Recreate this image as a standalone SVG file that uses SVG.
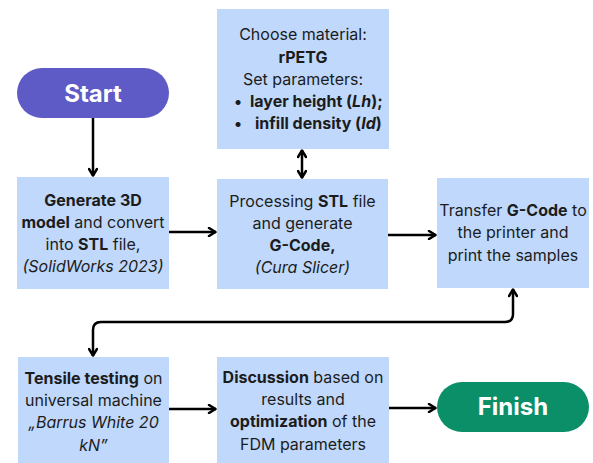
<svg xmlns="http://www.w3.org/2000/svg" width="593" height="463" viewBox="0 0 593 463">
<defs>
<style>
.box{fill:#bfd8fb}
.t{font-family:Inter,"Liberation Sans",sans-serif;font-size:16px;fill:#1c1c1c;text-anchor:middle}
.b{font-weight:bold}
.i{font-style:italic}
.pill{font-family:Inter,"Liberation Sans",sans-serif;font-size:24px;font-weight:bold;fill:#ffffff;text-anchor:middle}
.c{fill:none;stroke:#000;stroke-width:2.5}
</style>
<marker id="ah" viewBox="0 0 10 10" refX="9" refY="5" markerWidth="10" markerHeight="10" markerUnits="userSpaceOnUse" orient="auto-start-reverse">
<path d="M2,1 L8.5,5 L2,9" fill="none" stroke="#000" stroke-width="2.5" stroke-linecap="round" stroke-linejoin="round"/>
</marker>
</defs>
<rect width="593" height="463" fill="#ffffff"/>

<g id="connectors">
<path class="c" d="M93,118 V176" marker-end="url(#ah)"/>
<path class="c" d="M169,232 H216" marker-end="url(#ah)"/>
<path class="c" d="M388,235 H436" marker-end="url(#ah)"/>
<path class="c" d="M302,150 V178" marker-start="url(#ah)" marker-end="url(#ah)"/>
<path class="c" d="M93,356 V330 Q93,322 101,322 H505 Q513,322 513,314 V289" marker-start="url(#ah)" marker-end="url(#ah)"/>
<path class="c" d="M169,409 H216" marker-end="url(#ah)"/>
<path class="c" d="M389,408 H436" marker-end="url(#ah)"/>
</g>

<g id="start">
<rect x="17" y="68" width="152" height="50" rx="25" fill="#5f5bc6"/>
<text class="pill" x="93" y="102">Start</text>
</g>

<g id="material">
<rect class="box" x="217" y="9" width="172" height="140"/>
<text class="t" x="303" y="40">Choose material:</text>
<text class="t b" x="303" y="62.5">rPETG</text>
<text class="t" x="303" y="85">Set parameters:</text>
<text class="t b" x="238" y="107">•</text>
<text class="t b" x="250" y="107" style="text-anchor:start">layer height (<tspan class="i">Lh</tspan>);</text>
<text class="t b" x="238" y="129">•</text>
<text class="t b" x="255" y="129" style="text-anchor:start">infill density (<tspan class="i">Id</tspan>)</text>
</g>

<g id="generate">
<rect class="box" x="17" y="177" width="152" height="112"/>
<text class="t" x="93" y="206"><tspan class="b">Generate 3D</tspan></text>
<text class="t" x="93" y="228"><tspan class="b">model</tspan> and convert</text>
<text class="t" x="93" y="250">into <tspan class="b">STL</tspan> file,</text>
<text class="t i" x="93" y="272">(SolidWorks 2023)</text>
</g>

<g id="processing">
<rect class="box" x="217" y="179" width="171" height="110"/>
<text class="t" x="302.5" y="207">Processing <tspan class="b">STL</tspan> file</text>
<text class="t" x="302.5" y="229">and generate</text>
<text class="t b" x="302.5" y="251">G-Code,</text>
<text class="t i" x="302.5" y="273">(Cura Slicer)</text>
</g>

<g id="transfer">
<rect class="box" x="437" y="178" width="152" height="110"/>
<text class="t" x="513" y="216">Transfer <tspan class="b">G-Code</tspan> to</text>
<text class="t" x="513" y="238">the printer and</text>
<text class="t" x="513" y="261">print the samples</text>
</g>

<g id="tensile">
<rect class="box" x="18" y="357" width="151" height="106"/>
<text class="t" x="93.5" y="384"><tspan class="b">Tensile testing</tspan> on</text>
<text class="t" x="93.5" y="406">universal machine</text>
<text class="t i" x="93.5" y="428">„Barrus White 20</text>
<text class="t i" x="93.5" y="451">kN”</text>
</g>

<g id="discussion">
<rect class="box" x="217" y="357" width="172" height="106"/>
<text class="t" x="303" y="383"><tspan class="b">Discussion</tspan> based on</text>
<text class="t" x="303" y="405">results and</text>
<text class="t" x="303" y="427"><tspan class="b">optimization</tspan> of the</text>
<text class="t" x="303" y="450">FDM parameters</text>
</g>

<g id="finish">
<rect x="437" y="382" width="152" height="50" rx="25" fill="#0b8f69"/>
<text class="pill" x="513" y="415">Finish</text>
</g>
</svg>
